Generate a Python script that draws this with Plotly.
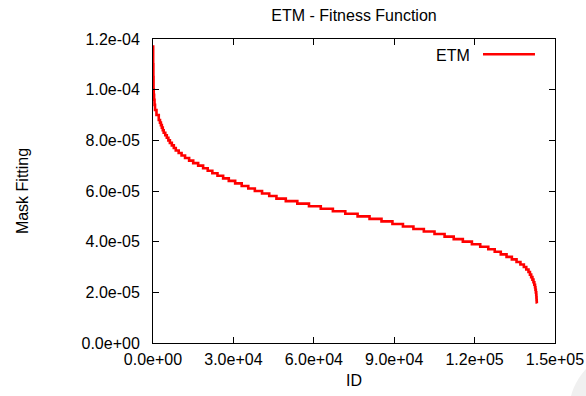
import plotly.graph_objects as go

# Fitness curve as a staircase: the ID where each level begins and the level (units of 1e-6)
step_id = [
    0, 60, 130, 190, 280, 400, 560, 750, 1300, 2150, 2600, 2950, 3300, 3650,
    4000, 4580, 5150, 5730, 6300, 7030, 7770, 8500, 9580, 10660, 11960, 13480,
    15000, 16850, 18700, 20420, 22140, 24060, 26170, 28280, 30660, 33100,
    35550, 38000, 40690, 43370, 46060, 49550, 53850, 58200, 62600, 67120,
    71750, 76340, 80800, 85260, 89340, 93260, 97170, 101060, 105040, 108800,
    112210, 115610, 118990, 122100, 125100, 127510, 129770, 131920, 133900,
    135650, 137100, 138380, 139280, 140110, 140650, 141110, 141570, 141960,
    142280, 142550, 142700, 142850, 143000, 143060, 143120, 143180, 143220,
]
step_fit = [
    117, 110, 105, 100, 98, 96, 94, 92, 90, 88, 87, 86, 85, 84,
    83, 82, 81, 80, 79, 78, 77, 76, 75, 74, 73, 72,
    71, 70, 69, 68, 67, 66, 65, 64, 63, 62,
    61, 60, 59, 58, 57, 56, 55, 54, 53, 52,
    51, 50, 49, 48, 47, 46, 45, 44, 43, 42,
    41, 40, 39, 38, 37, 36, 35, 34, 33,
    32, 31, 30, 29, 28, 27, 26, 25, 24,
    23, 22, 21, 20, 19, 18, 17, 16, 15.7,
]
FIT_UNIT = 1e-6

x_tick_vals = [0, 30000, 60000, 90000, 120000, 150000]
x_tick_text = ["0.0e+00", "3.0e+04", "6.0e+04", "9.0e+04", "1.2e+05", "1.5e+05"]
y_tick_vals = [0, 2e-5, 4e-5, 6e-5, 8e-5, 1.0e-4, 1.2e-4]
y_tick_text = ["0.0e+00", "2.0e-05", "4.0e-05", "6.0e-05", "8.0e-05", "1.0e-04", "1.2e-04"]

FONT = "Liberation Sans, Arial, sans-serif"
FS = 16
RED = "#ff0000"

fig = go.Figure()
fig.add_trace(go.Scatter(
    x=step_id,
    y=[v * FIT_UNIT for v in step_fit],
    mode="lines",
    line=dict(color=RED, width=2.6, shape="hv"),
    name="ETM",
    showlegend=False,
))

axis_common = dict(
    showline=True, linecolor="black", linewidth=1, mirror="ticks",
    ticks="inside", ticklen=6, tickcolor="black", tickwidth=1,
    showgrid=False, zeroline=False,
    tickfont=dict(family=FONT, size=FS, color="black"),
)

fig.update_xaxes(
    range=[0, 150000], tickmode="array", tickvals=x_tick_vals, ticktext=x_tick_text,
    ticklabelstandoff=2,
    title=dict(text="ID", font=dict(family=FONT, size=FS, color="black"), standoff=7),
    **axis_common,
)
fig.update_yaxes(
    range=[0, 1.2e-4], tickmode="array", tickvals=y_tick_vals, ticktext=y_tick_text,
    ticklabelstandoff=9,
    title=dict(text="Mask Fitting", font=dict(family=FONT, size=FS, color="black"), standoff=48),
    **axis_common,
)

# key: label on the left, line sample on the right
fig.add_annotation(
    text="ETM", xref="paper", yref="paper", x=0.7935, y=0.947,
    xanchor="right", yanchor="middle", showarrow=False,
    font=dict(family=FONT, size=FS, color="black"),
)
fig.add_shape(
    type="line", xref="paper", yref="paper", x0=0.8209, x1=0.9502, y0=0.9497, y1=0.9497,
    line=dict(color=RED, width=2.6),
)

# faint disc in the lower right corner of the page
fig.add_shape(
    type="circle", xref="paper", yref="paper", x0=1.0348, x1=1.348, y0=-0.434, y1=-0.0197,
    fillcolor="#f0f0f0", line=dict(width=0), layer="below",
)

fig.update_layout(
    width=586, height=396,
    margin=dict(l=153, r=31, t=39, b=53, autoexpand=False),
    paper_bgcolor="white", plot_bgcolor="white",
    title=dict(
        text="ETM - Fitness Function", x=0.5, xref="paper", xanchor="center",
        y=1 - 15 / 396, yref="container", yanchor="middle",
        font=dict(family=FONT, size=FS, color="black"),
    ),
    font=dict(family=FONT, size=FS, color="black"),
)

fig.write_html("out.html")
